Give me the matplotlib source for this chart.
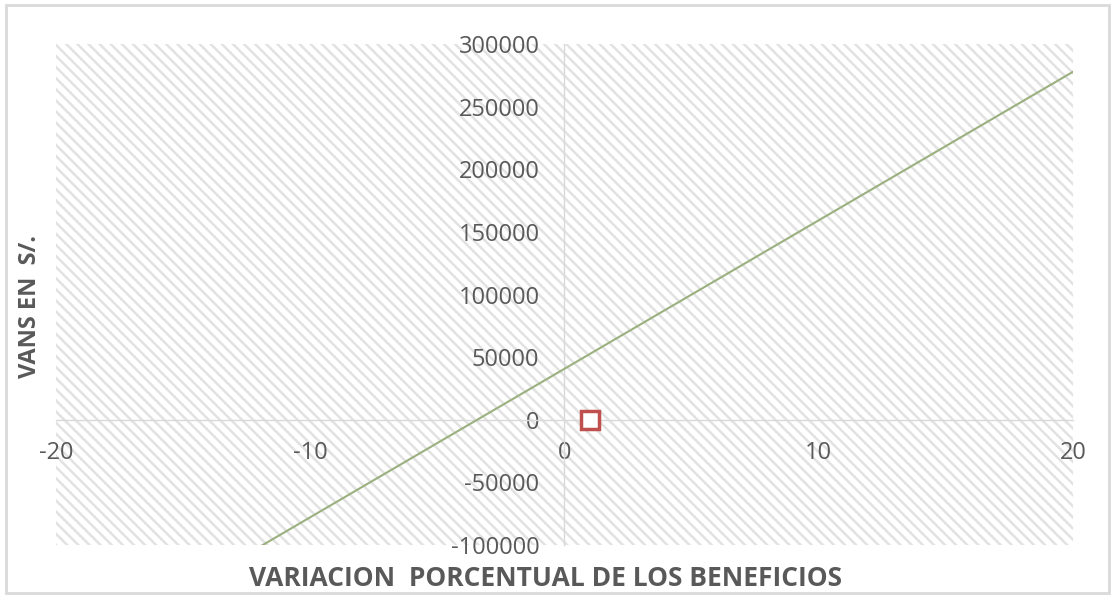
import numpy as np
import matplotlib
matplotlib.use('Agg')
import matplotlib.pyplot as plt
from matplotlib.patches import Rectangle

# datos
variacion=[-20,-10,0,10,20]
van=[-196400,-77850,40700,159250,277800]
punto_x=[1]
punto_y=[0]
xticks=[-20,-10,0,10,20]
yticks=[-100000,-50000,0,50000,100000,150000,200000,250000,300000]

plt.rcParams['font.family']=['Open Sans','DejaVu Sans']
plt.rcParams['hatch.linewidth']=1.8
plt.rcParams['hatch.color']='#e2e2e2'
gris='#595959'

fig=plt.figure(figsize=(11.15,5.98),dpi=100)
ax=fig.add_axes([0.0502,0.0886,0.9121,0.8378])
ax.patch.set_facecolor('white')
ax.patch.set_hatch('\\\\\\')
ax.patch.set_edgecolor('#e2e2e2')
ax.patch.set_linewidth(0)

ax.plot(variacion,van,color='#9bb07f',lw=1.5,zorder=3)
ax.plot(punto_x,punto_y,ls='none',marker='s',ms=13,mfc='white',mec='#c0504d',mew=2.5,zorder=4)

ax.set_xlim(-20,20)
ax.set_ylim(-100000,300000)
ax.set_xticks(xticks)
ax.set_yticks(yticks)
ax.set_xticklabels([str(v) for v in xticks])
ax.set_yticklabels([str(v) for v in yticks])
ax.tick_params(length=0,labelsize=17,labelcolor=gris)
ax.tick_params(axis='x',pad=15)
ax.tick_params(axis='y',pad=18)

ax.spines['left'].set_position(('data',0))
ax.spines['bottom'].set_position(('data',0))
ax.spines['top'].set_visible(False)
ax.spines['right'].set_visible(False)
for s in ['left','bottom']:
    ax.spines[s].set_color('#d9d9d9')
    ax.spines[s].set_linewidth(1)
    ax.spines[s].set_zorder(2)

fig.text(0.489,0.033,'VARIACION  PORCENTUAL DE LOS BENEFICIOS',ha='center',va='center',
         fontsize=19,fontweight='bold',color=gris)
fig.text(0.027,0.487,'VANS EN  S/.',ha='center',va='center',rotation=90,
         fontsize=17,fontweight='bold',color=gris)

fig.patches.append(Rectangle((0.005,0.008),0.99,0.984,transform=fig.transFigure,
                             fill=False,edgecolor='#d9d9d9',lw=2))

fig.savefig('out.png',dpi=100)
